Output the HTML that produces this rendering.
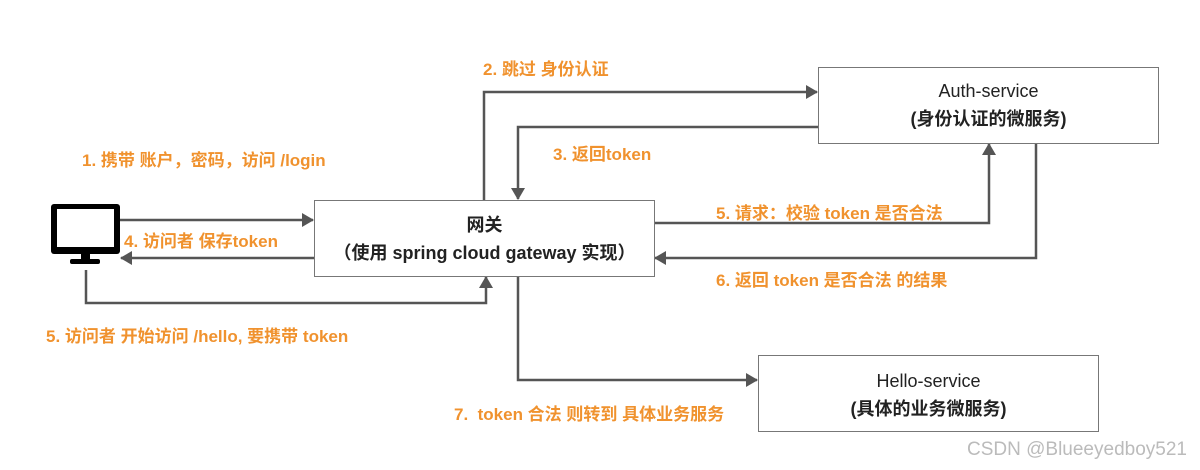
<!DOCTYPE html>
<html><head><meta charset="utf-8"><style>
body{margin:0;width:1200px;height:470px;background:#fff;position:relative;overflow:hidden;font-family:"Liberation Sans","Noto Sans CJK SC",sans-serif}
.box{position:absolute;border:1.5px solid #777;background:#fff;box-sizing:border-box;text-align:center;color:#222;font-size:18px;line-height:28px}
.lbl{position:absolute;color:#f0922e;font-weight:bold;font-size:17px;white-space:nowrap}
svg{position:absolute;left:0;top:0}
</style></head><body>
<svg width="1200" height="470">
<defs><marker id="b" markerWidth="12" markerHeight="14" refX="11" refY="7" orient="auto" markerUnits="userSpaceOnUse"><path d="M0,0 L12,7 L0,14 z" fill="#555"/></marker></defs>
<g stroke="#555" stroke-width="2.5" fill="none">
<path d="M120,220 L313,220" marker-end="url(#b)"/>
<path d="M314,258 L121,258" marker-end="url(#b)"/>
<path d="M86,270 L86,303 L486,303 L486,277" marker-end="url(#b)"/>
<path d="M484,200 L484,92 L817,92" marker-end="url(#b)"/>
<path d="M818,127 L518,127 L518,199" marker-end="url(#b)"/>
<path d="M654,223 L989,223 L989,144" marker-end="url(#b)"/>
<path d="M1036,143 L1036,258 L655,258" marker-end="url(#b)"/>
<path d="M518,276 L518,380 L757,380" marker-end="url(#b)"/>
</g>
</svg>
<div style="position:absolute;left:51px;top:204px;width:69px;height:50px;background:#000;border-radius:3px"></div>
<div style="position:absolute;left:57px;top:209px;width:57px;height:38px;background:#fff"></div>
<div style="position:absolute;left:81px;top:254px;width:9px;height:6px;background:#000"></div>
<div style="position:absolute;left:70px;top:259px;width:30px;height:5px;background:#000;border-radius:2px"></div>
<div class="box" style="left:314px;top:200px;width:341px;height:77px;padding-top:10px;font-weight:bold">网关<br>（使用 spring cloud gateway 实现）</div>
<div class="box" style="left:818px;top:67px;width:341px;height:77px;padding-top:9px">Auth-service<br><b>(身份认证的微服务)</b></div>
<div class="box" style="left:758px;top:355px;width:341px;height:77px;padding-top:11px">Hello-service<br><b>(具体的业务微服务)</b></div>
<div class="lbl" style="left:82px;top:146px">1. 携带 账户，密码，访问 /login</div>
<div class="lbl" style="left:483px;top:55px">2. 跳过 身份认证</div>
<div class="lbl" style="left:553px;top:140px">3. 返回token</div>
<div class="lbl" style="left:124px;top:227px">4. 访问者 保存token</div>
<div class="lbl" style="left:716px;top:199px">5. 请求：校验 token 是否合法</div>
<div class="lbl" style="left:716px;top:266px">6. 返回 token 是否合法 的结果</div>
<div class="lbl" style="left:46px;top:322px">5. 访问者 开始访问 /hello, 要携带 token</div>
<div class="lbl" style="left:454px;top:400px">7.&nbsp; token 合法 则转到 具体业务服务</div>
<div style="position:absolute;left:967px;top:439px;color:#bbb;font-size:19px">CSDN @Blueeyedboy521</div>
</body></html>
